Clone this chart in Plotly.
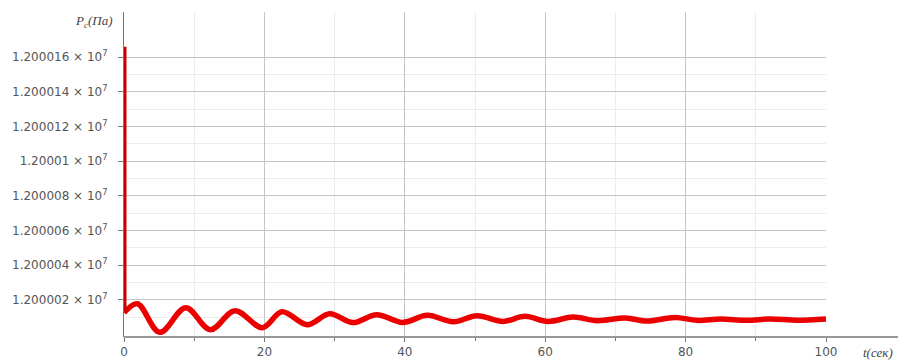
import plotly.graph_objects as go

# Data
t_spike = [0.0, 0.0]
p_spike = [12000166.0, 12000012.5]

t_osc = [0.0, 1.9, 5.1, 8.8, 12.3, 15.8, 19.7, 22.5, 26.1, 29.3, 32.6, 36.0, 39.7,
         43.2, 46.9, 50.3, 54.0, 57.1, 60.4, 64.0, 67.4, 71.4, 74.5, 78.5, 81.6,
         85.0, 88.7, 92.0, 95.9, 100.0]
p_osc = [12000012.5, 12000017.7, 12000001.2, 12000015.4, 12000002.7, 12000013.7,
         12000003.9, 12000013.1, 12000005.6, 12000011.9, 12000006.8, 12000011.4,
         12000006.9, 12000011.0, 12000007.3, 12000010.8, 12000007.5, 12000010.4,
         12000007.5, 12000010.0, 12000007.9, 12000009.5, 12000007.7, 12000009.8,
         12000008.1, 12000008.9, 12000008.1, 12000008.9, 12000008.2, 12000008.9]

y_tickvals = [12000020, 12000040, 12000060, 12000080, 12000100, 12000120, 12000140, 12000160]
y_ticktext = ["1.200002 × 10<sup>7</sup>", "1.200004 × 10<sup>7</sup>", "1.200006 × 10<sup>7</sup>",
              "1.200008 × 10<sup>7</sup>", "1.20001 × 10<sup>7</sup>", "1.200012 × 10<sup>7</sup>",
              "1.200014 × 10<sup>7</sup>", "1.200016 × 10<sup>7</sup>"]
y_minor = [12000010, 12000030, 12000050, 12000070, 12000090, 12000110, 12000130, 12000150]
x_tickvals = [0, 20, 40, 60, 80, 100]
x_minor = [10, 30, 50, 70, 90]

fig = go.Figure()
fig.add_trace(go.Scatter(x=t_osc, y=p_osc, mode="lines",
                         line=dict(color="rgb(235,0,0)", width=5.5, shape="spline", smoothing=1.0),
                         hoverinfo="skip"))
fig.add_trace(go.Scatter(x=t_spike, y=p_spike, mode="lines",
                         line=dict(color="rgb(200,0,0)", width=5),
                         hoverinfo="skip"))

fig.update_layout(
    width=904, height=360,
    margin=dict(l=124, r=78, t=12, b=23),
    paper_bgcolor="white", plot_bgcolor="white",
    showlegend=False,
    font=dict(family="DejaVu Sans", size=12, color="#555"),
    xaxis=dict(range=[0, 100], tickvals=x_tickvals, ticktext=[str(v) for v in x_tickvals],
               automargin=False,
               showgrid=True, gridcolor="#c4c4c4", gridwidth=1,
               minor=dict(tickvals=x_minor, showgrid=True, gridcolor="#ececec",
                          ticks="outside", ticklen=3, tickcolor="#777"),
               zeroline=False, showline=False,
               ticks="outside", ticklen=4, tickcolor="#777",
               tickfont=dict(family="DejaVu Sans", size=12, color="#555")),
    yaxis=dict(range=[11999998.5, 12000186], tickvals=y_tickvals, ticktext=y_ticktext,
               automargin=False,
               showgrid=True, gridcolor="#c4c4c4", gridwidth=1,
               minor=dict(tickvals=y_minor, showgrid=True, gridcolor="#ececec"),
               zeroline=False, showline=True, linecolor="#777", linewidth=1,
               ticks="outside", ticklen=5, tickcolor="#777", ticklabelstandoff=8,
               tickfont=dict(family="DejaVu Sans", size=12, color="#555")),
)

# x-axis line extended beyond the plot area (as in the original)
fig.add_shape(type="line", xref="paper", yref="paper", x0=0, x1=1.1026, y0=0, y1=0,
              line=dict(color="#777", width=1.5), layer="above")

fig.add_annotation(xref="paper", yref="paper", x=1.098, y=0, yshift=-15,
                   text="<i>t(сек)</i>", showarrow=False, xanchor="right", yanchor="middle",
                   font=dict(family="Liberation Serif", size=13, color="#444"))
fig.add_annotation(xref="paper", yref="paper", x=0, xshift=-9, y=1, yshift=-9,
                   text="<i>P<sub>c</sub>(Па)</i>", showarrow=False, xanchor="right", yanchor="middle",
                   font=dict(family="Liberation Serif", size=13, color="#444"))

fig.write_html("out.html")
